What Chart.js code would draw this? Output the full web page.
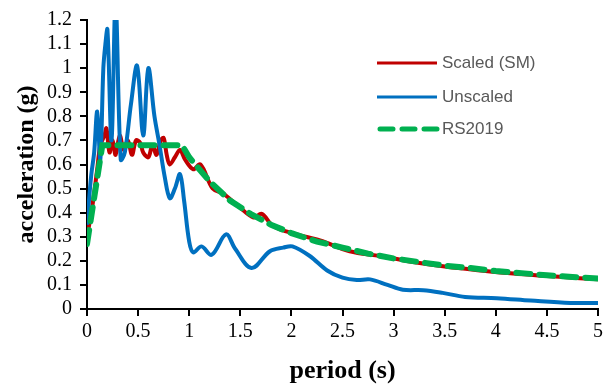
<!DOCTYPE html>
<html>
<head>
<meta charset="utf-8">
<script src="https://cdn.jsdelivr.net/npm/chart.js@4/dist/chart.umd.min.js"></script>
<style>
  html, body { margin: 0; padding: 0; background: #fff; }
  #wrap { width: 603px; height: 385px; }
</style>
</head>
<body>
<div id="wrap"><canvas id="graficoEspectro"></canvas></div>
<script>
// periodos (s) e aceleracoes (g)
const scaledT = [0, 0.05, 0.1, 0.13, 0.17, 0.19, 0.22, 0.25, 0.28, 0.32, 0.36, 0.4, 0.44, 0.48, 0.52, 0.55, 0.6, 0.64, 0.68, 0.72, 0.75, 0.78, 0.81, 0.86, 0.91, 0.96, 1.04, 1.11, 1.23, 1.33, 1.5, 1.63, 1.71, 1.82, 2.05, 2.28, 2.57, 2.87, 3.19, 3.52, 3.85, 4.17, 4.5, 4.82, 5];
const scaledA = [0.30, 0.42, 0.58, 0.68, 0.72, 0.75, 0.65, 0.70, 0.64, 0.72, 0.66, 0.70, 0.64, 0.70, 0.69, 0.65, 0.63, 0.68, 0.64, 0.70, 0.71, 0.64, 0.60, 0.63, 0.66, 0.62, 0.58, 0.60, 0.50, 0.48, 0.42, 0.38, 0.395, 0.345, 0.31, 0.285, 0.24, 0.22, 0.195, 0.175, 0.16, 0.147, 0.137, 0.128, 0.123];

const unscaledT = [0, 0.04, 0.07, 0.1, 0.13, 0.16, 0.18, 0.2, 0.24, 0.28, 0.33, 0.37, 0.43, 0.49, 0.55, 0.6, 0.66, 0.71, 0.76, 0.81, 0.86, 0.91, 0.95, 1.0, 1.04, 1.12, 1.22, 1.36, 1.45, 1.61, 1.79, 1.92, 2.01, 2.18, 2.35, 2.5, 2.64, 2.77, 2.94, 3.09, 3.29, 3.48, 3.7, 4.01, 4.34, 4.73, 5];
const unscaledA = [0.35, 0.55, 0.65, 0.82, 0.62, 1.0, 1.1, 1.16, 0.7, 1.28, 0.62, 0.65, 0.85, 1.01, 0.72, 1.0, 0.8, 0.68, 0.55, 0.46, 0.5, 0.56, 0.45, 0.28, 0.235, 0.26, 0.225, 0.31, 0.25, 0.17, 0.24, 0.255, 0.26, 0.22, 0.16, 0.13, 0.12, 0.123, 0.10, 0.08, 0.078, 0.067, 0.05, 0.045, 0.035, 0.025, 0.025];

const rsT = [0, 0.15, 0.93, 1.0, 1.2, 1.4, 1.6, 1.8, 2.0, 2.25, 2.5, 2.75, 3.0, 3.25, 3.5, 3.75, 4.0, 4.25, 4.5, 4.75, 5];
const rsA = [0.27, 0.68, 0.68, 0.63, 0.53, 0.45, 0.395, 0.35, 0.315, 0.28, 0.255, 0.23, 0.21, 0.195, 0.18, 0.17, 0.158, 0.149, 0.14, 0.133, 0.127];

const seriesNames = ['Scaled (SM)', 'Unscaled', 'RS2019'];
const xTicks = [0, 0.5, 1, 1.5, 2, 2.5, 3, 3.5, 4, 4.5, 5];
const yTicks = [0, 0.1, 0.2, 0.3, 0.4, 0.5, 0.6, 0.7, 0.8, 0.9, 1, 1.1, 1.2];

function pontos(t, a) {
    return t.map((v, i) => ({ x: v, y: a[i] }));
}

// legenda desenhada dentro da area do grafico
const legendaInterna = {
    id: 'legendaInterna',
    afterDraw(chart) {
        const ctx = chart.ctx;
        const itens = [
            { nome: seriesNames[0], cor: '#c00000', dash: [], y: 63 },
            { nome: seriesNames[1], cor: '#0070c0', dash: [], y: 97 },
            { nome: seriesNames[2], cor: '#00b050', dash: [13, 9], y: 129 }
        ];
        ctx.save();
        itens.forEach(it => {
            ctx.beginPath();
            ctx.strokeStyle = it.cor;
            ctx.lineWidth = it.dash.length ? 5 : 3;
            ctx.lineCap = it.dash.length ? 'round' : 'butt';
            ctx.setLineDash(it.dash);
            ctx.moveTo(it.dash.length ? 380 : 377, it.y);
            ctx.lineTo(437, it.y);
            ctx.stroke();
            ctx.setLineDash([]);
            ctx.fillStyle = '#595959';
            ctx.font = '17px "Liberation Sans", Arial, sans-serif';
            ctx.textBaseline = 'middle';
            ctx.fillText(it.nome, 442, it.y);
        });
        ctx.restore();
    }
};

const ctx = document.getElementById('graficoEspectro').getContext('2d');

new Chart(ctx, {
    type: 'line',
    data: {
        datasets: [
            {
                label: seriesNames[2],
                data: pontos(rsT, rsA),
                borderColor: '#00b050',
                borderWidth: 6,
                borderDash: [14, 9],
                borderCapStyle: 'round',
                pointRadius: 0,
                tension: 0,
                order: 0
            },
            {
                label: seriesNames[1],
                data: pontos(unscaledT, unscaledA),
                borderColor: '#0070c0',
                borderWidth: 4,
                pointRadius: 0,
                tension: 0.35,
                order: 1
            },
            {
                label: seriesNames[0],
                data: pontos(scaledT, scaledA),
                borderColor: '#c00000',
                borderWidth: 4,
                pointRadius: 0,
                tension: 0.35,
                order: 2
            }
        ]
    },
    options: {
        responsive: true,
        maintainAspectRatio: false,
        animation: false,
        layout: {
            padding: { top: 17, bottom: 0, left: 8, right: 5 }
        },
        plugins: {
            legend: { display: false },
            tooltip: { enabled: false }
        },
        scales: {
            x: {
                type: 'linear',
                min: 0,
                max: 5,
                afterBuildTicks: axis => { axis.ticks = xTicks.map(v => ({ value: v })); },
                afterFit: axis => { axis.height = 76; axis.paddingRight = 0; axis.paddingLeft = 0; },
                border: { display: true, color: '#000', width: 2 },
                grid: { drawOnChartArea: false, drawTicks: true, tickLength: 7, color: '#000', lineWidth: 2 },
                ticks: {
                    color: '#000',
                    padding: 4,
                    maxRotation: 0,
                    autoSkip: false,
                    font: { family: '"Liberation Serif", "Times New Roman", serif', size: 20 },
                    callback: v => String(v)
                },
                title: {
                    display: true,
                    text: 'period (s)',
                    color: '#000',
                    padding: { top: 4, bottom: -2 },
                    font: { family: '"Liberation Serif", "Times New Roman", serif', size: 26, weight: 'bold' }
                }
            },
            y: {
                min: 0,
                max: 1.2,
                afterBuildTicks: axis => { axis.ticks = yTicks.map(v => ({ value: v })); },
                afterFit: axis => { axis.width = 79; },
                border: { display: true, color: '#000', width: 2 },
                grid: { drawOnChartArea: false, drawTicks: true, tickLength: 7, color: '#000', lineWidth: 2 },
                ticks: {
                    color: '#000',
                    padding: 8,
                    autoSkip: false,
                    font: { family: '"Liberation Serif", "Times New Roman", serif', size: 20 },
                    callback: v => String(Number(v.toFixed(1)))
                },
                title: {
                    display: true,
                    text: 'acceleration (g)',
                    color: '#000',
                    padding: { bottom: 0 },
                    font: { family: '"Liberation Serif", "Times New Roman", serif', size: 24, weight: 'bold' }
                }
            }
        }
    },
    plugins: [legendaInterna]
});
</script>
</body>
</html>
